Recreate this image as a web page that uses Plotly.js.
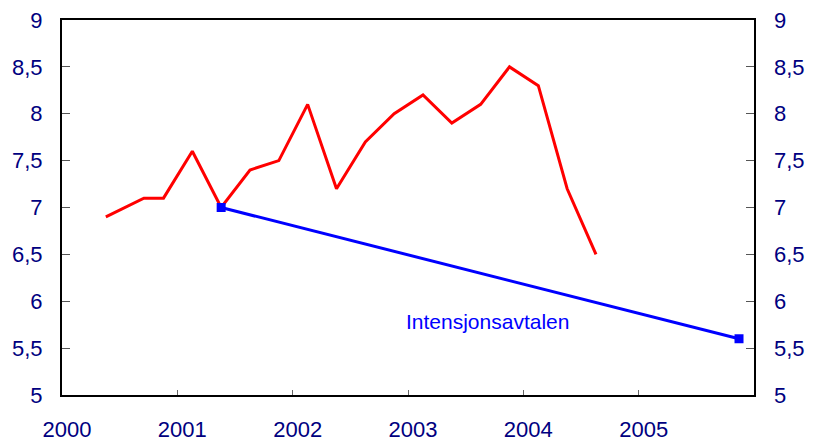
<!DOCTYPE html>
<html>
<head>
<meta charset="utf-8">
<script src="https://cdn.plot.ly/plotly-3.0.1.min.js"></script>
<style>html,body{margin:0;padding:0;background:#fff;}#chart{width:814px;height:442px;}</style>
</head>
<body>
<div id="chart"></div>
<script>
// Red series (decimal years, values)
var redX = [2000.38, 2000.71, 2000.88, 2001.13, 2001.38, 2001.63, 2001.88, 2002.13, 2002.38, 2002.63, 2002.88, 2003.13, 2003.38, 2003.63, 2003.88, 2004.13, 2004.38, 2004.63];
var redY = [6.9, 7.1, 7.1, 7.6, 7.0, 7.4, 7.5, 8.1, 7.2, 7.7, 8.0, 8.2, 7.9, 8.1, 8.5, 8.3, 7.2, 6.5];
// Blue series: Intensjonsavtalen
var blueX = [2001.38, 2005.87];
var blueY = [7.0, 5.6];
var xTickVals = [2000, 2001, 2002, 2003, 2004, 2005];
var xTickText = ["2000", "2001", "2002", "2003", "2004", "2005"];
var yTickVals = [5, 5.5, 6, 6.5, 7, 7.5, 8, 8.5, 9];
var annText = "Intensjonsavtalen";
var annX = 2003.69, annY = 5.78;

var labelFont = {family: "Arial, Liberation Sans, sans-serif", size: 22, color: "#000080"};

var traces = [
  {x: redX, y: redY, type: "scatter", mode: "lines", line: {color: "#FF0000", width: 3}, hoverinfo: "skip"},
  {x: blueX, y: blueY, type: "scatter", mode: "lines+markers", line: {color: "#0000FF", width: 3},
   marker: {symbol: "square", size: 9, color: "#0000FF"}, hoverinfo: "skip"},
  {x: [2000], y: [5], yaxis: "y2", type: "scatter", mode: "markers", marker: {opacity: 0}, hoverinfo: "skip"}
];

var layout = {
  width: 814, height: 442,
  margin: {l: 62, r: 60, t: 20, b: 47, pad: 0},
  paper_bgcolor: "#fff", plot_bgcolor: "#fff",
  showlegend: false,
  separators: ", ",
  font: labelFont,
  xaxis: {
    range: [2000, 2006], tickmode: "array", tickvals: xTickVals, ticktext: xTickText,
    ticks: "inside", ticklen: 5, tickwidth: 1, tickcolor: "#666",
    showline: true, linecolor: "#000", linewidth: 2, mirror: true,
    showgrid: false, zeroline: false, tickfont: labelFont,
    ticklabelstandoff: 14, ticklabelshift: 5
  },
  yaxis: {
    range: [5, 9], tickmode: "array", tickvals: yTickVals, tickformat: ".1~f",
    ticks: "inside", ticklen: 8, tickwidth: 1, tickcolor: "#555",
    showline: true, linecolor: "#000", linewidth: 2, mirror: "ticks",
    showgrid: false, zeroline: false, tickfont: labelFont,
    ticklabelstandoff: 13
  },
  yaxis2: {
    range: [5, 9], overlaying: "y", side: "right", tickmode: "array", tickvals: yTickVals, tickformat: ".1~f",
    ticks: "", showline: false, showgrid: false, zeroline: false, tickfont: labelFont,
    ticklabelstandoff: 19
  },
  annotations: [{
    x: annX, y: annY, xref: "x", yref: "y", text: annText, showarrow: false,
    font: {family: "Arial, Liberation Sans, sans-serif", size: 21, color: "#0000FF"}
  }]
};

Plotly.newPlot("chart", traces, layout, {staticPlot: true, displayModeBar: false});
</script>
</body>
</html>
